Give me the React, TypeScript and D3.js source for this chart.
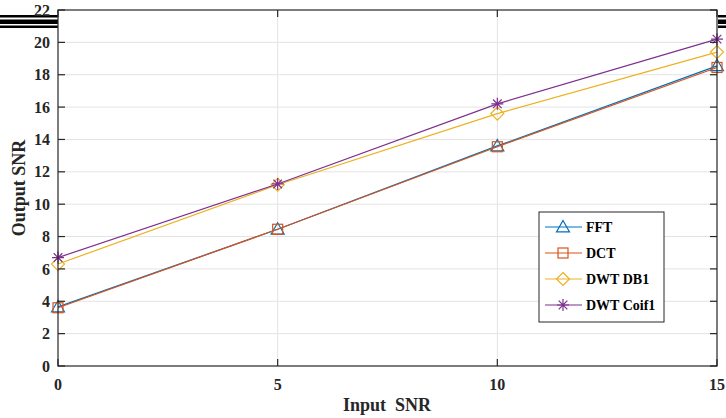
import React, { useEffect, useRef } from 'react';
import * as d3 from 'd3';

const snrIn = [0, 5, 10, 15];
const fft = [3.65, 8.45, 13.6, 18.55];
const dct = [3.6, 8.45, 13.55, 18.45];
const dwtDb1 = [6.3, 11.2, 15.6, 19.4];
const dwtCoif1 = [6.7, 11.25, 16.2, 20.2];
const seriesNames = ['FFT', 'DCT', 'DWT DB1', 'DWT Coif1'];
const seriesColors = ['#0072BD', '#D95319', '#EDB120', '#7E2F8E'];
const seriesMarkers = ['triangle', 'square', 'diamond', 'star'];
const yTicks = [0, 2, 4, 6, 8, 10, 12, 14, 16, 18, 20, 22];
const xTicks = [0, 5, 10, 15];

const FONT = '"Liberation Serif", "Times New Roman", serif';

function drawMarker(g: any, kind: string, cx: number, cy: number, color: string) {
  if (kind === 'triangle') {
    const s = 6.5;
    g.append('path')
      .attr('d', `M${cx},${cy - s} L${cx + s},${cy + s * 0.75} L${cx - s},${cy + s * 0.75} Z`)
      .attr('fill', 'none').attr('stroke', color).attr('stroke-width', 1.2);
  } else if (kind === 'square') {
    g.append('rect')
      .attr('x', cx - 5).attr('y', cy - 5).attr('width', 10).attr('height', 10)
      .attr('fill', 'none').attr('stroke', color).attr('stroke-width', 1.2);
  } else if (kind === 'diamond') {
    const s = 6.5;
    g.append('path')
      .attr('d', `M${cx},${cy - s} L${cx + s},${cy} L${cx},${cy + s} L${cx - s},${cy} Z`)
      .attr('fill', 'none').attr('stroke', color).attr('stroke-width', 1.2);
  } else {
    const s = 6;
    const d = s * 0.72;
    g.append('path')
      .attr('d', `M${cx},${cy - s}L${cx},${cy + s}M${cx - s},${cy}L${cx + s},${cy}M${cx - d},${cy - d}L${cx + d},${cy + d}M${cx - d},${cy + d}L${cx + d},${cy - d}`)
      .attr('fill', 'none').attr('stroke', color).attr('stroke-width', 1.2);
  }
}

export default function App() {
  const ref = useRef<SVGSVGElement>(null);

  useEffect(() => {
    const svg = d3.select(ref.current);
    svg.selectAll('*').remove();

    const left = 58, right = 717, top = 10, bottom = 366;
    const x = d3.scaleLinear().domain([0, 15]).range([left, right]);
    const y = d3.scaleLinear().domain([0, 22]).range([bottom, top]);

    svg.append('rect').attr('width', 726).attr('height', 418).attr('fill', '#fff');

    // stray black bars at top edges
    const bars = [[15, 2.5], [19.5, 4.5], [25.5, 2.5]];
    bars.forEach(([by, bh]) => {
      svg.append('rect').attr('x', 0).attr('y', by).attr('width', left).attr('height', bh).attr('fill', '#000');
      svg.append('rect').attr('x', right + 1).attr('y', by).attr('width', 726 - right).attr('height', bh).attr('fill', '#000');
    });

    // grid
    const grid = svg.append('g');
    yTicks.slice(1, -1).forEach(t => {
      grid.append('line').attr('x1', left).attr('x2', right).attr('y1', y(t)).attr('y2', y(t))
        .attr('stroke', '#e3e3e3').attr('stroke-width', 1);
    });
    xTicks.slice(1, -1).forEach(t => {
      grid.append('line').attr('x1', x(t)).attr('x2', x(t)).attr('y1', top).attr('y2', bottom)
        .attr('stroke', '#e3e3e3').attr('stroke-width', 1);
    });

    // series
    const allSeries = [fft, dct, dwtDb1, dwtCoif1];
    const line = d3.line<number>().x((d, i) => x(snrIn[i])).y(d => y(d));
    allSeries.forEach((vals, si) => {
      const g = svg.append('g');
      g.append('path').attr('d', line(vals)).attr('fill', 'none')
        .attr('stroke', seriesColors[si]).attr('stroke-width', 1.2);
      vals.forEach((v, i) => drawMarker(g, seriesMarkers[si], x(snrIn[i]), y(v), seriesColors[si]));
    });

    // axes box
    svg.append('rect').attr('x', left).attr('y', top).attr('width', right - left).attr('height', bottom - top)
      .attr('fill', 'none').attr('stroke', '#262626').attr('stroke-width', 1.2);

    // ticks
    const tk = svg.append('g').attr('stroke', '#262626').attr('stroke-width', 1.2);
    yTicks.forEach(t => {
      tk.append('line').attr('x1', left).attr('x2', left + 7).attr('y1', y(t)).attr('y2', y(t));
      tk.append('line').attr('x1', right - 7).attr('x2', right).attr('y1', y(t)).attr('y2', y(t));
    });
    xTicks.forEach(t => {
      tk.append('line').attr('x1', x(t)).attr('x2', x(t)).attr('y1', bottom).attr('y2', bottom - 7);
      tk.append('line').attr('x1', x(t)).attr('x2', x(t)).attr('y1', top).attr('y2', top + 7);
    });

    const labels = svg.append('g').attr('font-family', FONT).attr('font-weight', 'bold')
      .attr('font-size', 16).attr('fill', '#262626');
    yTicks.forEach(t => {
      labels.append('text').attr('x', left - 8).attr('y', y(t)).attr('dy', '0.35em')
        .attr('text-anchor', 'end').text(t);
    });
    xTicks.forEach(t => {
      labels.append('text').attr('x', x(t)).attr('y', bottom + 24)
        .attr('text-anchor', 'middle').text(t);
    });

    svg.append('text').attr('x', 387).attr('y', 411).attr('text-anchor', 'middle')
      .attr('font-family', FONT).attr('font-weight', 'bold').attr('font-size', 18)
      .attr('fill', '#262626').style('white-space', 'pre').text('Input  SNR');
    svg.append('text').attr('transform', `translate(25,${(top + bottom) / 2}) rotate(-90)`)
      .attr('text-anchor', 'middle')
      .attr('font-family', FONT).attr('font-weight', 'bold').attr('font-size', 18)
      .attr('fill', '#262626').text('Output SNR');

    // legend
    const lg = svg.append('g');
    lg.append('rect').attr('x', 539).attr('y', 212).attr('width', 125).attr('height', 110)
      .attr('fill', '#fff').attr('stroke', '#262626').attr('stroke-width', 1);
    seriesNames.forEach((name, i) => {
      const ly = 227 + i * 26;
      lg.append('line').attr('x1', 545).attr('x2', 582).attr('y1', ly).attr('y2', ly)
        .attr('stroke', seriesColors[i]).attr('stroke-width', 1.2);
      drawMarker(lg, seriesMarkers[i], 563, ly, seriesColors[i]);
      lg.append('text').attr('x', 586).attr('y', ly).attr('dy', '0.35em')
        .attr('font-family', FONT).attr('font-weight', 'bold').attr('font-size', 14)
        .attr('fill', '#000').text(name);
    });
  }, []);

  return (
    <svg ref={ref} width={726} height={418}
      style={{ position: 'absolute', left: 0, top: 0, display: 'block' }} />
  );
}
